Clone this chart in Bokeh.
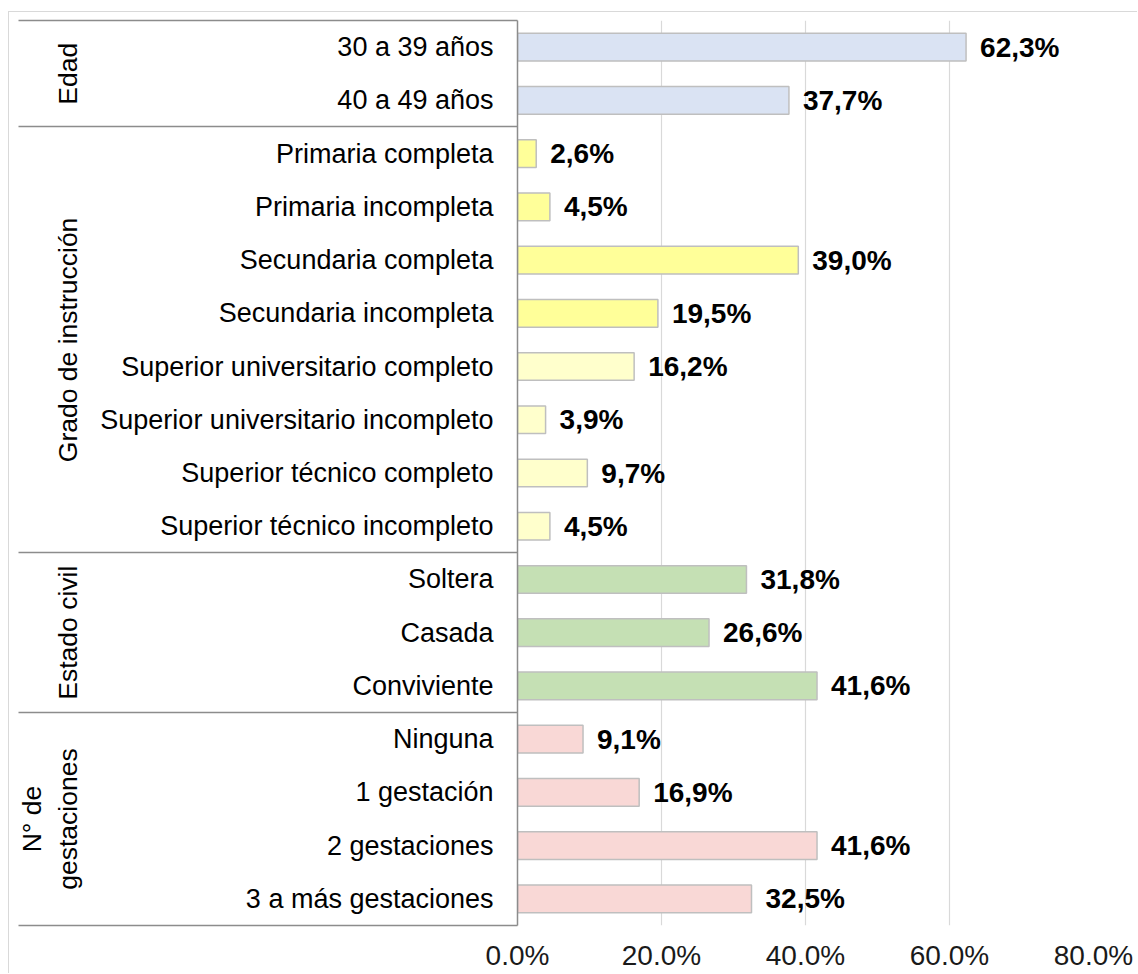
from bokeh.plotting import figure
from bokeh.models import (Range1d, FixedTicker, LinearAxis, PrintfTickFormatter,
                          ColumnDataSource)
from bokeh.embed import file_html
from bokeh.resources import INLINE
from bokeh.core.properties import value

# ---------------- data ----------------
categories = ["30 a 39 años", "40 a 49 años",
              "Primaria completa", "Primaria incompleta", "Secundaria completa",
              "Secundaria incompleta", "Superior universitario completo",
              "Superior universitario incompleto", "Superior técnico completo",
              "Superior técnico incompleto",
              "Soltera", "Casada", "Conviviente",
              "Ninguna", "1 gestación", "2 gestaciones", "3 a más gestaciones"]
values = [62.3, 37.7, 2.6, 4.5, 39.0, 19.5, 16.2, 3.9, 9.7, 4.5,
          31.8, 26.6, 41.6, 9.1, 16.9, 41.6, 32.5]
groups = ["Edad", "Grado de instrucción", "Estado civil", "N° de\ngestaciones"]
group_sizes = [2, 8, 3, 4]
bar_colors = ["#DAE3F3", "#DAE3F3",
              "#FFFF99", "#FFFF99", "#FFFF99", "#FFFF99",
              "#FFFFCC", "#FFFFCC", "#FFFFCC", "#FFFFCC",
              "#C5E0B4", "#C5E0B4", "#C5E0B4",
              "#F9D8D6", "#F9D8D6", "#F9D8D6", "#F9D8D6"]
x_ticks = [0, 20, 40, 60, 80]

# ------------- derived ---------------
rows = list(range(len(categories)))
labels = [("%.1f" % v).replace(".", ",") + "%" for v in values]
bounds = [-0.5]
centers2 = []
start = 0
for n in group_sizes:
    end = start + n - 1
    centers2.append(start + end)          # group centre, doubled scale
    bounds.append(end + 0.5)
    start = end + 1

src = ColumnDataSource(dict(row=rows, value=values, color=bar_colors, label=labels))

FONT = "Liberation Sans"
AX = "#8C8C8C"

p = figure(width=1129, height=962, output_backend="svg", toolbar_location=None,
           x_range=Range1d(0, 80), y_range=Range1d(len(rows) - 0.5, -0.5),
           min_border_left=508, min_border_right=45, min_border_top=8,
           min_border_bottom=49)
p.margin = (11, 0, 0, 8)
p.outline_line_color = None
p.background_fill_color = "white"
p.border_fill_color = "white"
p.styles = {"border-left": "1px solid #D9D9D9", "border-top": "1px solid #D9D9D9"}

# bars
p.hbar(y="row", left=0, right="value", height=0.52, fill_color="color",
       line_color="#BFBFBF", line_width=1.5, source=src)
# value labels
p.text(x="value", y="row", text="label", source=src, x_offset=14,
       text_align="left", text_baseline="middle",
       text_font=value(FONT), text_font_style="bold", text_font_size="28px",
       text_color="black")

# x axis
xa = p.xaxis[0]
xa.ticker = FixedTicker(ticks=x_ticks)
xa.formatter = PrintfTickFormatter(format="%.1f%%")
xa.axis_line_color = None
xa.major_tick_line_color = None
xa.minor_tick_line_color = None
xa.major_label_standoff = 8
xa.major_label_text_font = FONT
xa.major_label_text_font_size = "28px"
xa.major_label_text_color = "#1a1a1a"

p.xgrid.ticker = FixedTicker(ticks=x_ticks[1:])
p.xgrid.grid_line_color = "#D9D9D9"
p.xgrid.grid_line_width = 1.2
p.ygrid.visible = False

# y axis: category labels; minor ticks drawn outward (negative "in") as group separators
ya = p.yaxis[0]
ya.ticker = FixedTicker(ticks=rows, minor_ticks=bounds)
ya.major_label_overrides = {r: c for r, c in zip(rows, categories)}
ya.major_tick_out = 0
ya.major_tick_in = 0
ya.minor_tick_out = 0
ya.minor_tick_in = -499
ya.minor_tick_line_color = AX
ya.minor_tick_line_width = 1.5
ya.axis_line_color = AX
ya.axis_line_width = 1.5
ya.major_label_standoff = 24
ya.major_label_text_font = FONT
ya.major_label_text_font_size = "27px"
ya.major_label_text_color = "black"

# group labels axis
p.extra_y_ranges = {"g": Range1d(2 * len(rows) - 1, -1)}
ga = LinearAxis(y_range_name="g", ticker=FixedTicker(ticks=centers2))
ga.major_label_overrides = {c: g for c, g in zip(centers2, groups)}
ga.major_label_orientation = "vertical"
ga.axis_line_color = None
ga.major_tick_line_color = None
ga.minor_tick_line_color = None
ga.major_label_standoff = 8
ga.major_label_text_font = FONT
ga.major_label_text_font_size = "26.5px"
ga.major_label_text_color = "black"
p.add_layout(ga, "left")

open("out.html", "w").write(file_html(p, INLINE))
